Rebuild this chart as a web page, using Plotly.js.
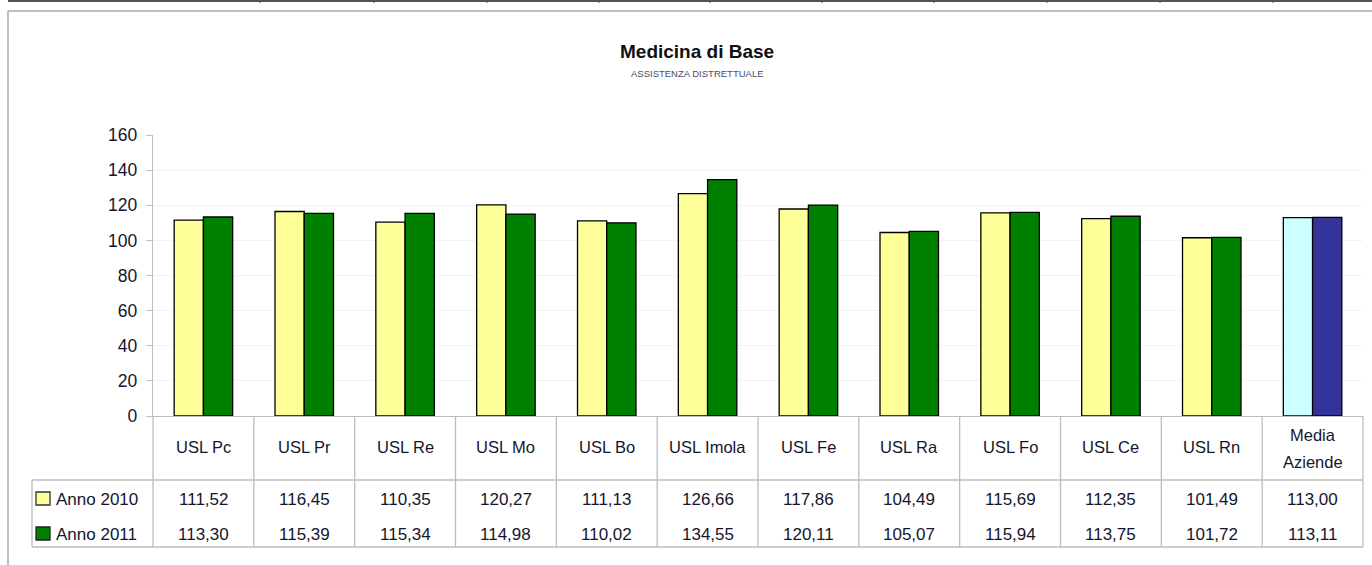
<!DOCTYPE html>
<html>
<head>
<meta charset="utf-8">
<script src="https://cdn.plot.ly/plotly-3.0.1.min.js"></script>
<style>html,body{margin:0;padding:0;background:#fff;}#chart{width:1372px;height:565px;}</style>
</head>
<body>
<div id="chart"></div>
<script>
const categories = ["USL Pc","USL Pr","USL Re","USL Mo","USL Bo","USL Imola","USL Fe","USL Ra","USL Fo","USL Ce","USL Rn","Media<br>Aziende"];
const anno2010 = [111.52,116.45,110.35,120.27,111.13,126.66,117.86,104.49,115.69,112.35,101.49,113.00];
const anno2011 = [113.30,115.39,115.34,114.98,110.02,134.55,120.11,105.07,115.94,113.75,101.72,113.11];
const seriesNames = ["Anno 2010","Anno 2011"];
const yTicks = [0,20,40,60,80,100,120,140,160];

const W = 1372, H = 565;
const L = 153, R = 1363, T = 135, B = 416;
const px = x => (x - L) / (R - L);
const py = y => (B - y) / (B - T);
const n = categories.length;
const idx = categories.map((_, i) => i);

const col2010 = idx.map(i => i === n - 1 ? "#CCFFFF" : "#FFFF99");
const col2011 = idx.map(i => i === n - 1 ? "#333399" : "#008000");
const fmt = v => v.toFixed(2).replace(".", ",");
const FONT = "Liberation Sans, Arial, sans-serif";
const TXT = "#15152E";

const traces = [
  {type: "bar", name: seriesNames[0], x: idx, y: anno2010, marker: {color: col2010, line: {color: "#000", width: 1.3}}, hoverinfo: "y"},
  {type: "bar", name: seriesNames[1], x: idx, y: anno2011, marker: {color: col2011, line: {color: "#000", width: 1.3}}, hoverinfo: "y"}
];

const shapes = [];
const ann = [];
const gray = "#BDBDBD";
function line(x0, y0, x1, y1, color, w) {
  shapes.push({type: "line", xref: "paper", yref: "paper", x0: px(x0), y0: py(y0), x1: px(x1), y1: py(y1), line: {color: color || gray, width: w || 1}});
}
// top spreadsheet strip and chart frame
line(8, 1, 1372, 1, "#555", 2);
[260, 374, 487, 599, 710, 822, 934, 1047, 1160, 1273].forEach(x => line(x, 0, x, 3, "#555", 1));
line(8, 11, 1372, 11, "#AAA", 1.5);
line(8, 11, 8, 565, "#AAA", 1.5);

// table grid
const cellW = (R - L) / n;
for (let i = 0; i <= n; i++) {
  const x = L + i * cellW;
  line(x, B, x, 547, gray, 1.3);
}
line(32, 480, R, 480, gray, 1.3);
line(32, 547, R, 547, gray, 1.3);
line(32, 480, 32, 547, gray, 1.3);

// header labels
categories.forEach((c, i) => {
  const parts = c.split("<br>");
  const ys = parts.length === 1 ? [447] : [435, 462];
  parts.forEach((p, k) => {
    ann.push({xref: "x", yref: "paper", x: i, y: py(ys[k]), text: p, showarrow: false,
      font: {family: FONT, size: 16.5, color: TXT}, xanchor: "center", yanchor: "middle", align: "center"});
  });
});
// data rows
const rows = [anno2010, anno2011];
const rowY = [499, 534];
const keyCol = [["#FFFF99", "#333"], ["#008000", "#222"]];
rows.forEach((arr, r) => {
  arr.forEach((v, i) => {
    ann.push({xref: "x", yref: "paper", x: i, y: py(rowY[r]), text: fmt(v), showarrow: false,
      font: {family: FONT, size: 17, color: TXT}, xanchor: "center", yanchor: "middle"});
  });
  shapes.push({type: "rect", xref: "paper", yref: "paper", x0: px(36), x1: px(50), y0: py(rowY[r] - 7), y1: py(rowY[r] + 6),
    fillcolor: keyCol[r][0], line: {color: keyCol[r][1], width: 1.3}});
  ann.push({xref: "paper", yref: "paper", x: px(54), y: py(rowY[r]), text: seriesNames[r], showarrow: false,
    font: {family: FONT, size: 17, color: TXT}, xanchor: "left", yanchor: "middle"});
});

// titles
ann.push({xref: "paper", yref: "paper", x: px(697), y: py(52), text: "<b>Medicina di Base</b>", showarrow: false,
  font: {family: FONT, size: 19, color: "#111"}, xanchor: "center", yanchor: "middle"});
ann.push({xref: "paper", yref: "paper", x: px(697), y: py(74), text: "ASSISTENZA DISTRETTUALE", showarrow: false,
  font: {family: FONT, size: 9.5, color: "#4A4A66"}, xanchor: "center", yanchor: "middle"});

const layout = {
  width: W, height: H,
  margin: {l: L, r: W - R, t: T, b: H - B, pad: 0},
  paper_bgcolor: "#fff", plot_bgcolor: "#fff",
  showlegend: false,
  barmode: "group", bargap: 0.42, bargroupgap: 0,
  xaxis: {range: [-0.5, n - 0.5], showticklabels: false, ticks: "", showgrid: false, zeroline: false,
    showline: true, linecolor: gray, linewidth: 1.3, fixedrange: true},
  yaxis: {range: [0, 160], tickvals: yTicks, ticktext: yTicks.map(String), showgrid: true, gridcolor: "#F3F3F3", gridwidth: 1,
    zeroline: false, showline: true, linecolor: gray, linewidth: 1.3, ticks: "outside", ticklen: 6, tickcolor: gray,
    tickfont: {family: FONT, size: 17.5, color: TXT}, ticklabelstandoff: 5, fixedrange: true},
  shapes: shapes,
  annotations: ann,
  font: {family: FONT}
};
Plotly.newPlot("chart", traces, layout, {displayModeBar: false, staticPlot: true});
</script>
</body>
</html>
